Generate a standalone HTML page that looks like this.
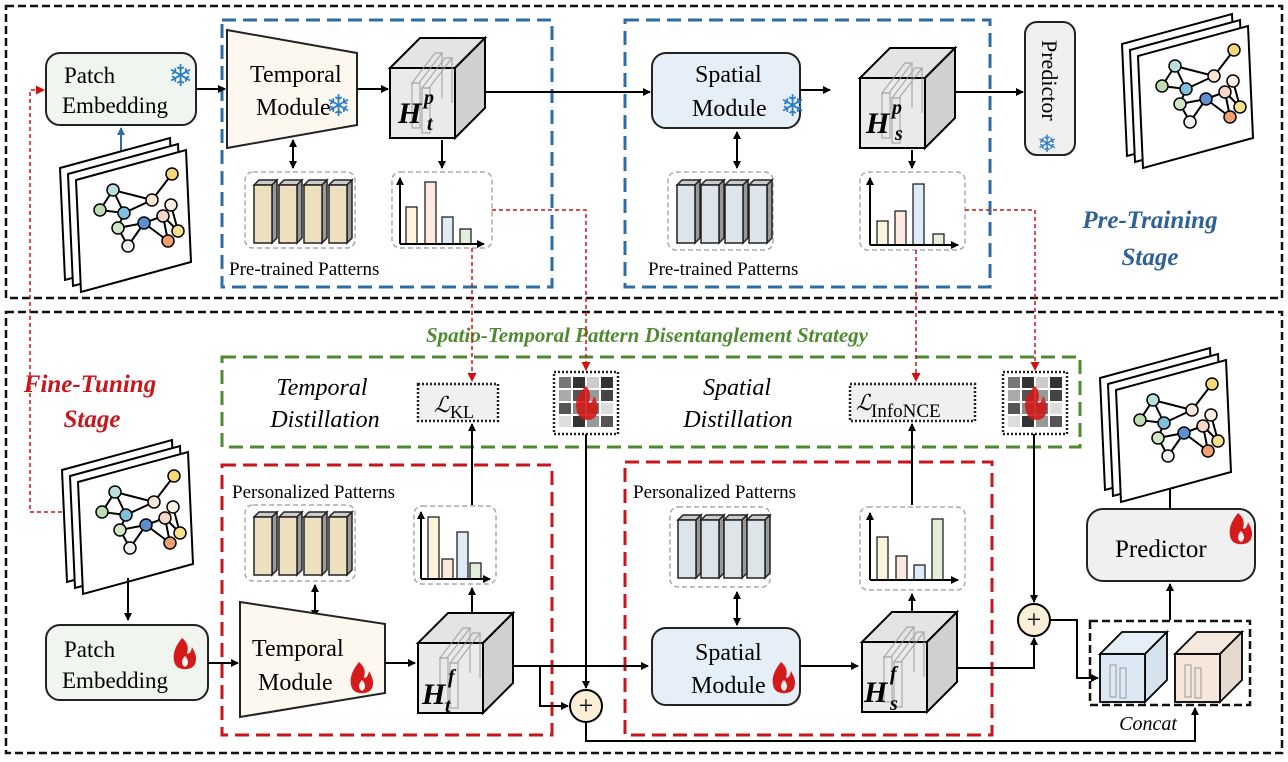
<!DOCTYPE html>
<html><head><meta charset="utf-8"><style>
html,body{margin:0;padding:0;background:#fff;}
svg{display:block;font-family:"Liberation Serif",serif;}
</style></head><body>
<svg width="1288" height="762" viewBox="0 0 1288 762" xmlns="http://www.w3.org/2000/svg">
<defs>
<marker id="ab" markerWidth="8" markerHeight="8" refX="7" refY="4" orient="auto" markerUnits="userSpaceOnUse"><path d="M0,0 L8,4 L0,8 z" fill="#000"/></marker>
<marker id="abs" markerWidth="8" markerHeight="8" refX="1" refY="4" orient="auto" markerUnits="userSpaceOnUse"><path d="M8,0 L0,4 L8,8 z" fill="#000"/></marker>
<marker id="ar" markerWidth="9" markerHeight="9" refX="8" refY="4.5" orient="auto" markerUnits="userSpaceOnUse"><path d="M0,0 L9,4.5 L0,9 z" fill="#d01010"/></marker>
<marker id="abl" markerWidth="8" markerHeight="8" refX="7" refY="4" orient="auto" markerUnits="userSpaceOnUse"><path d="M0,0 L8,4 L0,8 z" fill="#2e6da4"/></marker>
<g id="graph">
 <polygon points="0,30 110,0 115,112 5,142" fill="#fff" stroke="#000" stroke-width="2"/>
 <polygon points="8,36 118,6 123,118 13,148" fill="#fff" stroke="#000" stroke-width="2"/>
 <polygon points="16,42 126,12 131,124 21,154" fill="#fff" stroke="#000" stroke-width="2"/>
 <g stroke="#000" stroke-width="2">
 <line x1="40" y1="72" x2="53" y2="52"/><line x1="40" y1="72" x2="64" y2="75"/><line x1="53" y1="52" x2="64" y2="75"/><line x1="53" y1="52" x2="92" y2="62"/><line x1="64" y1="75" x2="92" y2="62"/><line x1="92" y1="62" x2="112" y2="36"/><line x1="64" y1="75" x2="58" y2="90"/><line x1="58" y1="90" x2="84" y2="85"/><line x1="84" y1="85" x2="103" y2="78"/><line x1="84" y1="85" x2="68" y2="108"/><line x1="84" y1="85" x2="108" y2="103"/><line x1="103" y1="78" x2="108" y2="103"/><line x1="103" y1="78" x2="118" y2="93"/><line x1="118" y1="93" x2="111" y2="67"/><line x1="58" y1="90" x2="68" y2="108"/>
 </g>
 <g stroke="#000" stroke-width="1.5">
 <circle cx="40" cy="72" r="6" fill="#bfdcb0"/><circle cx="53" cy="52" r="6" fill="#b9e0dd"/><circle cx="64" cy="75" r="6" fill="#7fc0dc"/><circle cx="92" cy="62" r="6" fill="#f6e6d6"/><circle cx="112" cy="36" r="6" fill="#f5d77a"/><circle cx="111" cy="67" r="6" fill="#fbeee3"/><circle cx="58" cy="90" r="6" fill="#cfe5c3"/><circle cx="84" cy="85" r="6" fill="#5b8fd0"/><circle cx="103" cy="78" r="6" fill="#f7d8c8"/><circle cx="118" cy="93" r="6" fill="#f5e08c"/><circle cx="108" cy="103" r="6" fill="#f0a070"/><circle cx="68" cy="108" r="6" fill="#eef0f4"/>
 </g>
</g>
<g id="cube">
 <polygon points="0,30 30,0 95,0 65,30" fill="#e4e4e4" stroke="#000" stroke-width="2"/>
 <polygon points="65,30 95,0 95,70 65,100" fill="#d0d0d0" stroke="#000" stroke-width="2"/>
 <rect x="0" y="30" width="65" height="70" fill="#eaeaea" stroke="#000" stroke-width="2"/>
 <g fill="none" stroke="#999" stroke-width="1.2" opacity="0.8">
  <polygon points="22,45 45,15 52,15 29,45"/><rect x="22" y="45" width="8" height="45"/>
  <polygon points="32,50 55,20 62,20 39,50"/><rect x="32" y="50" width="8" height="45"/>
  <line x1="52" y1="15" x2="52" y2="60"/><line x1="62" y1="20" x2="62" y2="65"/>
 </g>
</g>
<g id="hist">
 <rect x="0" y="0" width="100" height="76" rx="8" fill="#fff" stroke="#aaa" stroke-width="1.5" stroke-dasharray="5,3"/>
</g>
<g id="grid">
 <rect x="0" y="0" width="64" height="62" fill="#fff" stroke="#222" stroke-width="2.5" stroke-dasharray="2,2"/>
 <rect x="5" y="5" width="12" height="11" fill="#777"/><rect x="19" y="5" width="12" height="11" fill="#333"/><rect x="33" y="5" width="12" height="11" fill="#ccc"/><rect x="47" y="5" width="12" height="11" fill="#333"/>
 <rect x="5" y="18" width="12" height="11" fill="#aaa"/><rect x="19" y="18" width="12" height="11" fill="#555"/><rect x="33" y="18" width="12" height="11" fill="#999"/><rect x="47" y="18" width="12" height="11" fill="#444"/>
 <rect x="5" y="31" width="12" height="11" fill="#555"/><rect x="19" y="31" width="12" height="11" fill="#888"/><rect x="33" y="31" width="12" height="11" fill="#777"/><rect x="47" y="31" width="12" height="11" fill="#ddd"/>
 <rect x="5" y="44" width="12" height="11" fill="#ddd"/><rect x="19" y="44" width="12" height="11" fill="#333"/><rect x="33" y="44" width="12" height="11" fill="#999"/><rect x="47" y="44" width="12" height="11" fill="#555"/>
 <path d="M32,14 C22,24 20,32 24,42 C27,50 40,50 43,42 C46,34 42,28 40,24 C39,30 36,32 35,30 C37,24 36,18 32,14 z" fill="#d01a1a" opacity="0.9"/>
</g>
<g id="flame"><path d="M10,0 C2,10 0,18 3,26 C6,33 20,33 23,26 C26,19 22,13 20,9 C19,15 16,17 15,15 C17,9 15,4 10,0 z M13,18 C9,22 9,27 13,29 C17,27 17,22 13,18z" fill="#d41a1a" fill-rule="evenodd"/></g>
<g id="bar"><polygon points="0,5 5,0 23,0 18,5" fill="#ccc" stroke="#222" stroke-width="1.5"/><polygon points="18,5 23,0 23,58 18,63" fill="#999" stroke="#222" stroke-width="1.5"/><rect x="0" y="5" width="18" height="58" stroke="#222" stroke-width="1.5"/></g>
</defs>

<rect x="6" y="6" width="1276" height="292" fill="none" stroke="#111" stroke-width="2.5" stroke-dasharray="8,4"/>
<rect x="6" y="312" width="1276" height="441" fill="none" stroke="#111" stroke-width="2.5" stroke-dasharray="8,4"/>

<rect x="222" y="20" width="330" height="267" fill="none" stroke="#2e6da4" stroke-width="3" stroke-dasharray="14,7"/>
<rect x="625" y="20" width="365" height="267" fill="none" stroke="#2e6da4" stroke-width="3" stroke-dasharray="14,7"/>

<rect x="46" y="53" width="150" height="72" rx="14" fill="#f1f5ef" stroke="#222" stroke-width="2"/>
<text x="64" y="83" font-size="23">Patch</text>
<text x="62" y="113" font-size="23">Embedding</text>
<text x="168" y="86" font-size="30" fill="#2e7dc4">❄</text>
<line x1="121" y1="155" x2="121" y2="128" stroke="#2e6da4" stroke-width="2" marker-end="url(#abl)"/>
<use href="#graph" x="60" y="138"/>

<polygon points="227,30 357,53 357,125 227,148" fill="#fdf8ef" stroke="#222" stroke-width="2"/>
<text x="250" y="82" font-size="24">Temporal</text>
<text x="256" y="115" font-size="24">Module</text>
<text x="326" y="116" font-size="30" fill="#2e7dc4">❄</text>
<line x1="196" y1="89" x2="225" y2="89" stroke="#000" stroke-width="2" marker-end="url(#ab)"/>
<line x1="357" y1="89" x2="388" y2="89" stroke="#000" stroke-width="2" marker-end="url(#ab)"/>
<use href="#cube" x="390" y="38"/>
<text x="398" y="123" font-size="30" font-weight="bold" font-style="italic">H</text>
<text x="424" y="104" font-size="20" font-weight="bold" font-style="italic">p</text>
<text x="427" y="130" font-size="20" font-weight="bold" font-style="italic">t</text>
<line x1="485" y1="92" x2="650" y2="92" stroke="#000" stroke-width="2" marker-end="url(#ab)"/>
<line x1="293" y1="140" x2="293" y2="168" stroke="#000" stroke-width="2" marker-start="url(#abs)" marker-end="url(#ab)"/>
<rect x="245" y="172" width="110" height="76" rx="8" fill="#fff" stroke="#aaa" stroke-width="1.5" stroke-dasharray="5,3"/>
<g fill="#ede0bf"><use href="#bar" x="254" y="180"/><use href="#bar" x="279" y="180"/><use href="#bar" x="304" y="180"/><use href="#bar" x="329" y="180"/></g>
<text x="229" y="275" font-size="19">Pre-trained Patterns</text>
<line x1="442" y1="140" x2="442" y2="168" stroke="#000" stroke-width="2" marker-end="url(#ab)"/>
<use href="#hist" x="392" y="172"/>
<g stroke="#222" stroke-width="1.3"><rect x="406" y="207" width="11" height="37" fill="#fbf3dc"/><rect x="425" y="182" width="11" height="62" fill="#fbe8df"/><rect x="442" y="217" width="11" height="27" fill="#dfecf7"/><rect x="460" y="229" width="11" height="15" fill="#e3efdc"/></g>
<line x1="400" y1="244" x2="484" y2="244" stroke="#000" stroke-width="2" marker-end="url(#ab)"/><line x1="400" y1="244" x2="400" y2="178" stroke="#000" stroke-width="2" marker-end="url(#ab)"/>

<rect x="652" y="53" width="148" height="75" rx="14" fill="#e6eef8" stroke="#222" stroke-width="2"/>
<text x="695" y="82" font-size="24">Spatial</text>
<text x="692" y="116" font-size="24">Module</text>
<text x="780" y="116" font-size="30" fill="#2e7dc4">❄</text>
<line x1="800" y1="90" x2="830" y2="90" stroke="#000" stroke-width="2" marker-end="url(#ab)"/>
<use href="#cube" x="860" y="48"/>
<text x="866" y="133" font-size="30" font-weight="bold" font-style="italic">H</text>
<text x="892" y="114" font-size="20" font-weight="bold" font-style="italic">p</text>
<text x="895" y="140" font-size="20" font-weight="bold" font-style="italic">s</text>
<line x1="955" y1="92" x2="1023" y2="92" stroke="#000" stroke-width="2" marker-end="url(#ab)"/>
<line x1="737" y1="132" x2="737" y2="168" stroke="#000" stroke-width="2" marker-start="url(#abs)" marker-end="url(#ab)"/>
<rect x="668" y="172" width="105" height="78" rx="8" fill="#fff" stroke="#aaa" stroke-width="1.5" stroke-dasharray="5,3"/>
<g fill="#dde4ea"><use href="#bar" x="677" y="180"/><use href="#bar" x="701" y="180"/><use href="#bar" x="725" y="180"/><use href="#bar" x="749" y="180"/></g>
<text x="648" y="275" font-size="19">Pre-trained Patterns</text>
<line x1="912" y1="150" x2="912" y2="168" stroke="#000" stroke-width="2" marker-end="url(#ab)"/>
<rect x="860" y="172" width="105" height="78" rx="8" fill="#fff" stroke="#aaa" stroke-width="1.5" stroke-dasharray="5,3"/>
<g stroke="#222" stroke-width="1.3"><rect x="877" y="221" width="11" height="24" fill="#fbf3dc"/><rect x="895" y="211" width="11" height="34" fill="#fbe8df"/><rect x="913" y="184" width="11" height="61" fill="#dfecf7"/><rect x="933" y="234" width="11" height="11" fill="#e3efdc"/></g>
<line x1="870" y1="245" x2="958" y2="245" stroke="#000" stroke-width="2" marker-end="url(#ab)"/><line x1="870" y1="245" x2="870" y2="178" stroke="#000" stroke-width="2" marker-end="url(#ab)"/>

<rect x="1025" y="22" width="50" height="133" rx="12" fill="#f0f0f0" stroke="#222" stroke-width="2"/>
<text transform="translate(1042,40) rotate(90)" font-size="22">Predictor</text>
<text x="1037" y="152" font-size="24" fill="#2e7dc4">❄</text>
<use href="#graph" x="1122" y="14"/>

<text x="1150" y="228" font-size="25" font-weight="bold" font-style="italic" fill="#2e6296" text-anchor="middle">Pre-Training</text>
<text x="1150" y="265" font-size="25" font-weight="bold" font-style="italic" fill="#2e6296" text-anchor="middle">Stage</text>

<text x="647" y="342" font-size="21" font-weight="bold" font-style="italic" fill="#4f8a32" text-anchor="middle">Spatio-Temporal Pattern Disentanglement Strategy</text>
<rect x="222" y="357" width="858" height="90" fill="none" stroke="#4f8a32" stroke-width="3" stroke-dasharray="14,7"/>
<text x="322" y="395" font-size="24" font-style="italic" text-anchor="middle">Temporal</text>
<text x="325" y="427" font-size="24" font-style="italic" text-anchor="middle">Distillation</text>
<text x="737" y="395" font-size="24" font-style="italic" text-anchor="middle">Spatial</text>
<text x="738" y="427" font-size="24" font-style="italic" text-anchor="middle">Distillation</text>
<rect x="418" y="384" width="80" height="37" fill="#f0f0f0" stroke="#222" stroke-width="2.5" stroke-dasharray="2,2"/>
<text x="434" y="412" font-size="22" font-style="italic">ℒ</text><text x="450" y="418" font-size="18">KL</text>
<rect x="850" y="384" width="125" height="37" fill="#f0f0f0" stroke="#222" stroke-width="2.5" stroke-dasharray="2,2"/>
<text x="856" y="410" font-size="22" font-style="italic">ℒ</text><text x="871" y="417" font-size="19">InfoNCE</text>
<use href="#grid" x="554" y="372"/>
<use href="#grid" x="1003" y="372"/>

<text x="90" y="392" font-size="25" font-weight="bold" font-style="italic" fill="#c8161d" text-anchor="middle">Fine-Tuning</text>
<text x="92" y="427" font-size="25" font-weight="bold" font-style="italic" fill="#c8161d" text-anchor="middle">Stage</text>
<use href="#graph" x="62" y="440"/>
<line x1="128" y1="578" x2="128" y2="620" stroke="#000" stroke-width="2" marker-end="url(#ab)"/>
<rect x="46" y="625" width="162" height="75" rx="14" fill="#f1f5ef" stroke="#222" stroke-width="2"/>
<text x="64" y="657" font-size="23">Patch</text>
<text x="62" y="688" font-size="23">Embedding</text>
<use href="#flame" x="172" y="638"/>

<rect x="222" y="465" width="330" height="270" fill="none" stroke="#c8161d" stroke-width="3" stroke-dasharray="14,7"/>
<rect x="625" y="462" width="367" height="273" fill="none" stroke="#c8161d" stroke-width="3" stroke-dasharray="14,7"/>
<text x="232" y="498" font-size="19">Personalized Patterns</text>
<text x="633" y="498" font-size="19">Personalized Patterns</text>
<rect x="245" y="505" width="110" height="76" rx="8" fill="#fff" stroke="#aaa" stroke-width="1.5" stroke-dasharray="5,3"/>
<g fill="#ede0bf"><use href="#bar" x="254" y="512"/><use href="#bar" x="279" y="512"/><use href="#bar" x="304" y="512"/><use href="#bar" x="329" y="512"/></g>
<line x1="315" y1="585" x2="315" y2="617" stroke="#000" stroke-width="2" marker-start="url(#abs)" marker-end="url(#ab)"/>
<polygon points="240,602 385,624 385,693 240,717" fill="#fdf8ef" stroke="#222" stroke-width="2"/>
<text x="252" y="656" font-size="24">Temporal</text>
<text x="258" y="690" font-size="24">Module</text>
<use href="#flame" x="349" y="662"/>
<line x1="208" y1="663" x2="238" y2="663" stroke="#000" stroke-width="2" marker-end="url(#ab)"/>
<line x1="385" y1="663" x2="415" y2="663" stroke="#000" stroke-width="2" marker-end="url(#ab)"/>
<use href="#cube" x="418" y="613"/>
<text x="422" y="704" font-size="30" font-weight="bold" font-style="italic">H</text>
<text x="448" y="683" font-size="20" font-weight="bold" font-style="italic">f</text>
<text x="445" y="712" font-size="20" font-weight="bold" font-style="italic">t</text>
<line x1="472" y1="613" x2="472" y2="588" stroke="#000" stroke-width="2" marker-end="url(#ab)"/>
<rect x="414" y="506" width="82" height="78" rx="8" fill="#fff" stroke="#aaa" stroke-width="1.5" stroke-dasharray="5,3"/>
<g stroke="#222" stroke-width="1.3"><rect x="428" y="517" width="11" height="62" fill="#fbf3dc"/><rect x="442" y="559" width="11" height="20" fill="#fbe8df"/><rect x="457" y="532" width="11" height="47" fill="#dfecf7"/><rect x="470" y="563" width="11" height="16" fill="#e3efdc"/></g>
<line x1="421" y1="579" x2="490" y2="579" stroke="#000" stroke-width="2" marker-end="url(#ab)"/><line x1="421" y1="579" x2="421" y2="512" stroke="#000" stroke-width="2" marker-end="url(#ab)"/>
<line x1="472" y1="505" x2="472" y2="424" stroke="#000" stroke-width="2" marker-end="url(#ab)"/>

<line x1="513" y1="666" x2="648" y2="666" stroke="#000" stroke-width="2" marker-end="url(#ab)"/>
<polyline points="540,666 540,706 568,706" fill="none" stroke="#000" stroke-width="2" marker-end="url(#ab)"/>
<line x1="586" y1="434" x2="586" y2="688" stroke="#000" stroke-width="2" marker-end="url(#ab)"/>
<circle cx="586" cy="706" r="16" fill="#fcefd8" stroke="#000" stroke-width="2"/>
<text x="586" y="714" font-size="26" text-anchor="middle">+</text>
<polyline points="586,722 586,741 1195,741 1195,708" fill="none" stroke="#000" stroke-width="2" marker-end="url(#ab)"/>

<rect x="670" y="507" width="100" height="80" rx="8" fill="#fff" stroke="#aaa" stroke-width="1.5" stroke-dasharray="5,3"/>
<g fill="#dde4ea"><use href="#bar" x="678" y="515"/><use href="#bar" x="701" y="515"/><use href="#bar" x="724" y="515"/><use href="#bar" x="747" y="515"/></g>
<line x1="737" y1="592" x2="737" y2="625" stroke="#000" stroke-width="2" marker-start="url(#abs)" marker-end="url(#ab)"/>
<rect x="652" y="628" width="148" height="77" rx="14" fill="#e6eef8" stroke="#222" stroke-width="2"/>
<text x="695" y="660" font-size="24">Spatial</text>
<text x="691" y="693" font-size="24">Module</text>
<use href="#flame" x="771" y="662"/>
<line x1="800" y1="666" x2="858" y2="666" stroke="#000" stroke-width="2" marker-end="url(#ab)"/>
<use href="#cube" x="862" y="612"/>
<text x="864" y="702" font-size="30" font-weight="bold" font-style="italic">H</text>
<text x="890" y="680" font-size="20" font-weight="bold" font-style="italic">f</text>
<text x="890" y="710" font-size="20" font-weight="bold" font-style="italic">s</text>
<line x1="912" y1="612" x2="912" y2="594" stroke="#000" stroke-width="2" marker-end="url(#ab)"/>
<rect x="860" y="507" width="105" height="83" rx="8" fill="#fff" stroke="#aaa" stroke-width="1.5" stroke-dasharray="5,3"/>
<g stroke="#222" stroke-width="1.3"><rect x="877" y="537" width="11" height="43" fill="#fbf3dc"/><rect x="896" y="556" width="11" height="24" fill="#fbe8df"/><rect x="914" y="565" width="11" height="15" fill="#dfecf7"/><rect x="932" y="519" width="11" height="61" fill="#e3efdc"/></g>
<line x1="870" y1="580" x2="958" y2="580" stroke="#000" stroke-width="2" marker-end="url(#ab)"/><line x1="870" y1="580" x2="870" y2="513" stroke="#000" stroke-width="2" marker-end="url(#ab)"/>
<line x1="912" y1="505" x2="912" y2="424" stroke="#000" stroke-width="2" marker-end="url(#ab)"/>

<polyline points="957,668 1034,668 1034,638" fill="none" stroke="#000" stroke-width="2" marker-end="url(#ab)"/>
<line x1="1034" y1="434" x2="1034" y2="602" stroke="#000" stroke-width="2" marker-end="url(#ab)"/>
<circle cx="1034" cy="620" r="16" fill="#fcefd8" stroke="#000" stroke-width="2"/>
<text x="1034" y="628" font-size="26" text-anchor="middle">+</text>
<polyline points="1050,620 1077,620 1077,678 1098,678" fill="none" stroke="#000" stroke-width="2" marker-end="url(#ab)"/>

<rect x="1090" y="621" width="160" height="84" fill="none" stroke="#111" stroke-width="2.5" stroke-dasharray="8,4"/>
<polygon points="1100,654 1122,632 1167,632 1145,654" fill="#e6eff7" stroke="#000" stroke-width="1.8"/>
<polygon points="1145,654 1167,632 1167,680 1145,702" fill="#d5e2ee" stroke="#000" stroke-width="1.8"/>
<rect x="1100" y="654" width="45" height="48" fill="#dce8f3" stroke="#000" stroke-width="1.8"/>
<polygon points="1175,654 1197,632 1242,632 1220,654" fill="#f4e8df" stroke="#000" stroke-width="1.8"/>
<polygon points="1220,654 1242,632 1242,680 1220,702" fill="#e6d8cd" stroke="#000" stroke-width="1.8"/>
<rect x="1175" y="654" width="45" height="48" fill="#f6e7dc" stroke="#000" stroke-width="1.8"/>
<g fill="none" stroke="#999" stroke-width="1"><rect x="1110" y="665" width="6" height="32"/><rect x="1120" y="668" width="6" height="30"/><rect x="1185" y="665" width="6" height="32"/><rect x="1195" y="668" width="6" height="30"/></g>
<text x="1148" y="730" font-size="20" font-style="italic" text-anchor="middle">Concat</text>
<line x1="1170" y1="620" x2="1170" y2="584" stroke="#000" stroke-width="2" marker-end="url(#ab)"/>
<rect x="1087" y="509" width="168" height="72" rx="16" fill="#f0f0f0" stroke="#222" stroke-width="2"/>
<text x="1115" y="557" font-size="25">Predictor</text>
<use href="#flame" x="1228" y="513"/>
<line x1="1170" y1="509" x2="1170" y2="482" stroke="#000" stroke-width="2" marker-end="url(#ab)"/>
<use href="#graph" x="1100" y="348"/>

<g fill="none" stroke="#d01010" stroke-width="1.5" stroke-dasharray="4,3">
<polyline points="62,512 30,512 30,90 44,90" marker-end="url(#ar)"/>
<polyline points="472,248 472,381" marker-end="url(#ar)"/>
<polyline points="492,210 586,210 586,370" marker-end="url(#ar)"/>
<polyline points="916,250 916,381" marker-end="url(#ar)"/>
<polyline points="965,210 1035,210 1035,370" marker-end="url(#ar)"/>
</g>
</svg>
</body></html>
